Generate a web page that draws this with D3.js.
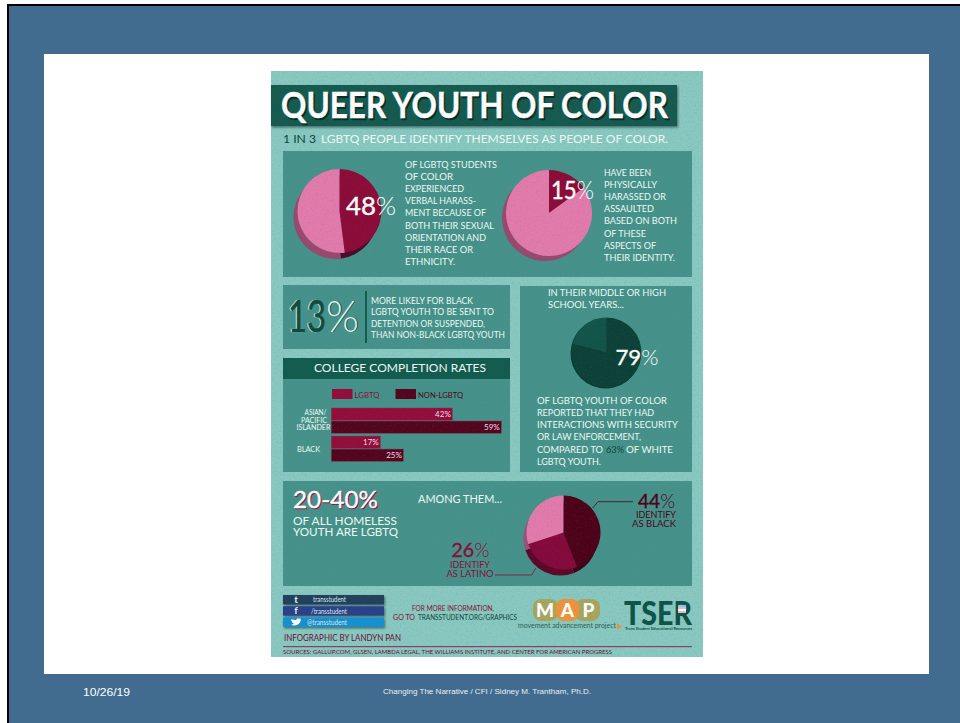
<!DOCTYPE html>
<html>
<head>
<meta charset="utf-8">
<script src="https://cdn.jsdelivr.net/npm/d3@7/dist/d3.min.js"></script>
<style>
html,body{margin:0;padding:0;background:#fff}
svg{display:block}
text{font-family:Lato,"Open Sans",sans-serif}
</style>
</head>
<body>
<svg id="chart" width="960" height="723"></svg>
<script>
// Pie shares, percent
const harassmentShares = [48, 52];
const assaultShares = [15, 85];
const policeShares = [79, 21];
const homelessLabels = ["Black", "Latino", "Other"];
const homelessShares = [44, 26, 30];

// College completion rates
const collegeGroups = ["Asian/Pacific Islander", "Black"];
const collegeSeries = ["LGBTQ", "Non-LGBTQ"];
const collegeLgbtq = [42, 17];
const collegeNonLgbtq = [59, 25];

const SLIDE = "#426c8f", PAPER = "#88c8c0", PANEL = "#46928a", BAND = "#135a4f";
const PINK = "#e27aac", PINK_SHADE = "#98496f", CRIMSON = "#8c0b38", WINE = "#4e0219";
const MINT = "#f0faf6", DEEP = "#0f463d";

const svg = d3.select("#chart");
const defs = svg.append("defs");

// Speckled paper grain laid over the poster
const grain = defs.append("filter").attr("id", "grain")
  .attr("x", 0).attr("y", 0).attr("width", "100%").attr("height", "100%");
grain.append("feTurbulence").attr("type", "fractalNoise").attr("baseFrequency", 0.55)
  .attr("numOctaves", 3).attr("seed", 7);
grain.append("feColorMatrix").attr("type", "matrix")
  .attr("values", "0 0 0 0 0.04  0 0 0 0 0.2  0 0 0 0 0.18  3 0 0 0 -1.45");

const softShadow = defs.append("filter").attr("id", "soft")
  .attr("x", "-10%").attr("y", "-20%").attr("width", "120%").attr("height", "150%");
softShadow.append("feDropShadow").attr("dx", 1).attr("dy", 1.5).attr("stdDeviation", 1)
  .attr("flood-color", "#0c2f2a").attr("flood-opacity", 0.6);

function rect(parent, x, y, w, h, fill, extra) {
  const r = parent.append("rect").attr("x", x).attr("y", y).attr("width", w).attr("height", h).attr("fill", fill);
  if (extra) r.attr("filter", extra);
  return r;
}

// Text set to an exact run width, since the poster's display face is condensed differently per line
function label(parent, x, y, str, size, fill, width, opts = {}) {
  const t = parent.append("text").attr("x", x).attr("y", y).attr("font-size", size)
    .attr("fill", fill).attr("font-weight", opts.weight || 400).text(str);
  if (opts.anchor) t.attr("text-anchor", opts.anchor);
  if (opts.family) t.style("font-family", opts.family);
  if (opts.stroke) t.attr("stroke", fill).attr("stroke-width", opts.stroke);
  if (width) t.attr("textLength", width).attr("lengthAdjust", "spacingAndGlyphs");
  return t;
}

// Slide frame
rect(svg, 7, 4, 953, 719, "#000");
rect(svg, 9, 6, 951, 717, SLIDE);
rect(svg, 44, 54, 885, 620, "#fff");
label(svg, 83, 696, "10/26/19", 11, "#fff", 47, {family: "Liberation Sans"});
label(svg, 383, 694, "Changing The Narrative / CFI / Sidney M. Trantham, Ph.D.", 7.5, "#e8eef3", 208, {family: "Liberation Sans"});

// Poster
const poster = svg.append("g");
rect(poster, 271, 71, 432, 586, PAPER);

// Title band
rect(poster, 271, 85, 406, 41, BAND, "url(#soft)");
label(poster, 282.5, 119.5, "QUEER YOUTH OF COLOR", 36, "#082c26", 387, {weight: 700, stroke: 0.4});
label(poster, 281, 118, "QUEER YOUTH OF COLOR", 36, "#fff", 387, {weight: 700, stroke: 0.4});

// Subtitle
label(poster, 283, 143, "1 IN 3", 12, DEEP, 33);
label(poster, 321, 143, "LGBTQ PEOPLE IDENTIFY THEMSELVES AS PEOPLE OF COLOR.", 12, MINT, 347);

// Panels
rect(poster, 283, 151, 409, 126, PANEL);
rect(poster, 283, 285, 227, 64, PANEL);
rect(poster, 283, 358, 227, 114, PANEL);
rect(poster, 520, 286, 172, 186, PANEL);
rect(poster, 283, 481, 409, 105, PANEL);
rect(poster, 283, 358, 227, 21, BAND);

// Pies start at twelve o'clock and run clockwise in data order
const pieLayout = d3.pie().sort(null).value(d => d);
function drawPie(values, cx, cy, r, colors, shadow, dx, dy) {
  const g = poster.append("g").attr("transform", `translate(${cx},${cy})`);
  const arc = d3.arc().innerRadius(0).outerRadius(r);
  const arcs = pieLayout(values);
  // Extruded rim: same slices offset down and to the left
  g.selectAll("path.rim").data(arcs).join("path").attr("class", "rim")
    .attr("d", arc).attr("transform", `translate(${dx},${dy})`)
    .attr("fill", (d, i) => shadow[i]);
  g.selectAll("path.face").data(arcs).join("path").attr("class", "face")
    .attr("d", arc).attr("fill", (d, i) => colors[i]);
}

drawPie(harassmentShares, 339.5, 211, 42, [CRIMSON, PINK], ["#4d0a2a", PINK_SHADE], -4, 6);
drawPie(assaultShares, 549, 213, 43, [CRIMSON, PINK], [PINK_SHADE, PINK_SHADE], -4, 5);
drawPie(policeShares, 606.5, 352.5, 35, ["#0d4137", "#125449"], ["#0b3a31", "#0b3a31"], -1, 1);
drawPie(homelessShares, 563.5, 532.5, 37, [WINE, "#85093a", PINK], ["#3e0216", "#5d0628", "#9a4f78"], -3, 6);

function pct(x, y, num, size, fill, wAll) {
  const t = label(poster, x, y, "", size, fill);
  t.append("tspan").attr("font-weight", 400).attr("stroke", fill).attr("stroke-width", 0.4).text(num);
  t.append("tspan").attr("font-weight", 300).text("%");
  t.attr("textLength", wAll).attr("lengthAdjust", "spacingAndGlyphs");
  return t;
}
pct(346, 215, "48", 25, "#fff", 50);
pct(551, 198.5, "15", 25, "#fff", 43);
pct(615.5, 365, "79", 22, "#fff", 43);

// Body copy blocks
function lines(x, y0, step, rows, size, fill) {
  rows.forEach((r, i) => label(poster, x, y0 + i * step, r[0], size, fill, r[1]));
}
lines(405, 168, 12.1, [
  ["OF LGBTQ STUDENTS", 92], ["OF COLOR", 48], ["EXPERIENCED", 59], ["VERBAL HARASS-", 71],
  ["MENT BECAUSE OF", 81], ["BOTH THEIR SEXUAL", 89], ["ORIENTATION AND", 81], ["THEIR RACE OR", 68], ["ETHNICITY.", 50]
], 9.5, MINT);
lines(604, 176, 12.1, [
  ["HAVE BEEN", 47], ["PHYSICALLY", 53], ["HARASSED OR", 62], ["ASSAULTED", 50],
  ["BASED ON BOTH", 73], ["OF THESE", 42], ["ASPECTS OF", 52], ["THEIR IDENTITY.", 71]
], 9.5, MINT);

// 13% callout: dark numerals with a pale edge, pale percent sign with a dark edge
label(poster, 287, 332, "13", 44, "#d9efe9", 38, {stroke: 0.6});
label(poster, 288, 332, "13", 44, "#0e4a40", 38, {stroke: 0.6});
label(poster, 327, 332, "%", 44, "#0e4a40", 33, {weight: 300});
label(poster, 326, 332, "%", 44, "#e4f4ef", 33, {weight: 300});
rect(poster, 365, 291, 2, 52, BAND);
lines(371, 304, 11.3, [
  ["MORE LIKELY FOR BLACK", 102], ["LGBTQ YOUTH TO BE SENT TO", 123],
  ["DETENTION OR SUSPENDED,", 114], ["THAN NON-BLACK LGBTQ YOUTH", 134]
], 9, MINT);

// College completion bars
label(poster, 314, 372, "COLLEGE COMPLETION RATES", 12, MINT, 172);

const x = d3.scaleLinear().domain([0, 59]).range([331.3, 501.3]);
const yGroup = d3.scaleBand().domain(collegeGroups).range([408, 461.3]).paddingInner(0.1);
const yBar = d3.scaleBand().domain(collegeSeries).range([0, yGroup.bandwidth()]).paddingInner(0.06);
const barColors = d3.scaleOrdinal().domain(collegeSeries).range(["#930d3a", "#55041e"]);

[collegeLgbtq, collegeNonLgbtq].forEach((vals, s) => {
  const name = collegeSeries[s];
  const g = poster.append("g");
  g.selectAll("rect").data(vals).join("rect")
    .attr("x", x(0))
    .attr("y", (d, i) => yGroup(collegeGroups[i]) + yBar(name))
    .attr("width", d => x(d) - x(0))
    .attr("height", yBar.bandwidth())
    .attr("fill", barColors(name))
    .attr("stroke", "#7d3a55").attr("stroke-width", 0.5);
  g.selectAll("text").data(vals).join("text")
    .attr("x", d => x(d) - 1.5)
    .attr("y", (d, i) => yGroup(collegeGroups[i]) + yBar(name) + yBar.bandwidth() / 2 + 3)
    .attr("text-anchor", "end").attr("font-size", 8).attr("fill", "#f3dfe6")
    .text(d => d + "%");
});

// Series key
[[332, 354.5, 25], [395.5, 418, 45]].forEach((k, i) => {
  rect(poster, k[0], 389, 20.5, 10, barColors(collegeSeries[i]));
  label(poster, k[1], 397.5, collegeSeries[i].toUpperCase(), 8, i ? WINE : CRIMSON, k[2]);
});

// Group labels
label(poster, 315.5, 415, "ASIAN/", 7, MINT, 22, {anchor: "middle"});
label(poster, 314, 422.5, "PACIFIC", 7, MINT, 26, {anchor: "middle"});
label(poster, 313.5, 429.5, "ISLANDER", 7, MINT, 34, {anchor: "middle"});
label(poster, 308.5, 452, "BLACK", 8, MINT, 23, {anchor: "middle"});

// Law-enforcement panel copy
lines(548, 296, 12, [["IN THEIR MIDDLE OR HIGH", 118], ["SCHOOL YEARS...", 76]], 9.5, MINT);
lines(537, 404, 12.1, [
  ["OF LGBTQ YOUTH OF COLOR", 130], ["REPORTED THAT THEY HAD", 117],
  ["INTERACTIONS WITH SECURITY", 141], ["OR LAW ENFORCEMENT,", 104]
], 9.5, MINT);
label(poster, 537, 452.5, "COMPARED TO", 9.5, MINT, 66);
label(poster, 606, 452.5, "63%", 9.5, DEEP, 18);
label(poster, 626, 452.5, "OF WHITE", 9.5, MINT, 47);
label(poster, 537, 464.5, "LGBTQ YOUTH.", 9.5, MINT, 64);

// Homelessness panel
label(poster, 294, 509, "20-40%", 23, CRIMSON, 85, {stroke: 0.4});
label(poster, 293, 507.5, "20-40%", 23, "#fff", 85, {stroke: 0.4});
label(poster, 293, 525, "OF ALL HOMELESS", 11, MINT, 104);
label(poster, 293, 536, "YOUTH ARE LGBTQ", 11, MINT, 105);
label(poster, 418, 503, "AMONG THEM...", 11.5, MINT, 84);

const leader = d3.line();
poster.append("path").attr("fill", "none").attr("stroke", WINE).attr("stroke-width", 0.8)
  .attr("d", leader([[592.7, 508], [598, 501.7], [633, 501.7]]));
poster.append("path").attr("fill", "none").attr("stroke", CRIMSON).attr("stroke-width", 0.8)
  .attr("d", leader([[495, 575], [531.7, 575], [535.7, 568]]));

pct(638, 507.5, "44", 19, WINE, 37);
label(poster, 656, 517.5, "IDENTIFY", 8.5, WINE, 40, {anchor: "middle"});
label(poster, 654, 526.5, "AS BLACK", 8.5, WINE, 44, {anchor: "middle"});
pct(451.5, 556.5, "26", 19, CRIMSON, 38);
label(poster, 470, 568, "IDENTIFY", 8.5, CRIMSON, 40, {anchor: "middle"});
label(poster, 470, 577, "AS LATINO", 8.5, CRIMSON, 47, {anchor: "middle"});

// Social strip
[["#23405c", "t", "transstudent", 313, 33], ["#2b4189", "f", "/transstudent", 311, 36], ["#1690d2", "", "@transstudent", 307, 40]]
.forEach((s, i) => {
  const y = 595 + i * 11.2;
  rect(poster, 283, y, 101, 9.4, s[0], "url(#soft)");
  if (s[1]) label(poster, 296, y + 8, s[1], 10, "#e6eef2", null, {weight: 700, anchor: "middle"});
  label(poster, s[3], y + 7.3, s[2], 7.5, "#dbe8ee", s[4]);
});
// Bird mark on the last strip
poster.append("path").attr("fill", "#fff")
  .attr("d", "M291 619.5 C293 619 295 620.5 296 620 C296.5 618.5 298 618 299 618.7 L301 618.3 L300 619.6 L301 619.6 C300.5 623 298 625.5 294.5 625.5 C293 625.5 292 625 291 624.5 C292.5 624.5 293.5 624 294 623.5 C292.8 623.3 292 622.6 292 621.8 C291.4 621.2 291 620.5 291 619.5 Z");

// Further-information note
label(poster, 412, 611, "FOR MORE INFORMATION,", 7.5, CRIMSON, 82);
label(poster, 393, 620, "GO TO", 7.5, CRIMSON, 22);
label(poster, 418, 620, "TRANSSTUDENT.ORG/GRAPHICS", 7.5, DEEP, 99);

// MAP logo tiles, orange middle tile overlapping its neighbours
[[533, 25, "#a8a55f"], [575, 25, "#a8a55f"], [556, 23, "#ee9339"]].forEach(t => {
  rect(poster, t[0], 599, t[1], 22, t[2]).attr("rx", 8);
});
[[545, "M"], [567.5, "A"], [588.5, "P"]].forEach(t => {
  label(poster, t[0], 616.5, t[1], 19, "#fff", null, {weight: 900, anchor: "middle"});
});
label(poster, 518, 628, "movement advancement project", 7.5, "#2f5f58", 98);
poster.append("path").attr("fill", "#ee9339").attr("d", d3.line()([[617, 623], [622, 626.5], [617, 630]]));

// TSER logo
label(poster, 624, 625, "TSER", 32, "#0f5246", 68, {weight: 900});
rect(poster, 678, 605, 8, 2, "#7ecbee");
rect(poster, 678, 607, 8, 2, "#f0b6c8");
rect(poster, 678, 609, 8, 2, "#ffffff");
rect(poster, 678, 611, 8, 2, "#f0b6c8");
label(poster, 625, 630, "Trans Student Educational Resources", 4.5, "#0f5246", 67, {weight: 700});

// Credits
label(poster, 284, 640.5, "INFOGRAPHIC BY LANDYN PAN", 9, "#6d0c35", 117);
rect(poster, 283, 646, 409, 1.2, "#8d3d63");
label(poster, 283, 654, "SOURCES: GALLUP.COM, GLSEN, LAMBDA LEGAL, THE WILLIAMS INSTITUTE, AND CENTER FOR AMERICAN PROGRESS", 6.5, "#6d0c35", 329);

// Grain sits above everything on the poster
rect(svg, 271, 71, 432, 586, "#000").attr("filter", "url(#grain)").attr("opacity", 0.12);
</script>
</body>
</html>
